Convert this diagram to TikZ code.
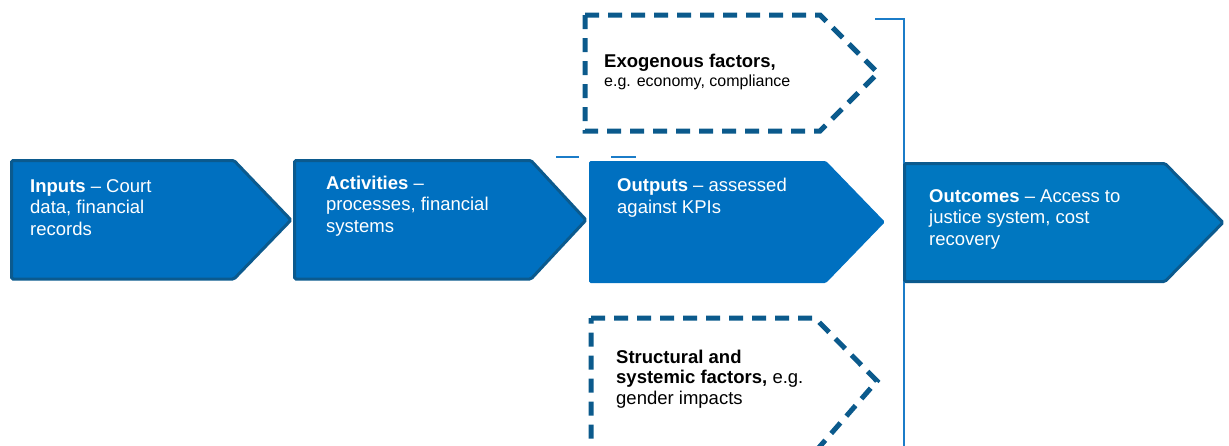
\documentclass[tikz,border=0pt]{standalone}
\usepackage{fontspec}
\setmainfont{Liberation Sans}
\definecolor{stepfill}{HTML}{0070C0}
\definecolor{stepfilllight}{HTML}{0077C0}
\definecolor{stepedge}{HTML}{0B5A8E}
\definecolor{factoredge}{HTML}{0B5A8C}
\definecolor{linkblue}{HTML}{1B7CC8}
\begin{document}
\begin{tikzpicture}[x=1pt,y=-1pt,
  chevron/.style={fill=stepfill, draw=stepedge, line width=3pt, rounded corners=1.5pt},
  chevronplain/.style={fill=stepfill, rounded corners=1.5pt},
  factorbox/.style={draw=factoredge, line width=5pt, dash pattern=on 14pt off 9pt},
  steptext/.style={anchor=base west, align=left, inner sep=0pt, text=white,
    font=\fontsize{18.5}{21.5}\selectfont},
  factortext/.style={anchor=base west, align=left, inner sep=0pt, text=black,
    font=\fontsize{18.5}{20.5}\selectfont},
  notetext/.style={anchor=base west, inner sep=0pt, text=black,
    font=\fontsize{16}{19}\selectfont},
  link/.style={draw=linkblue, line width=1.5pt}]
\useasboundingbox (0,0) rectangle (1229,445);
\clip (0,0) rectangle (1229,445);

% bracket line separating outputs from outcomes
\coordinate (bracketstart) at (875,19);
\coordinate (bracketcorner) at (904,19);
\coordinate (bracketend) at (904,447);
\draw[link] (bracketstart) -- (bracketcorner) -- (bracketend);

% short marks above the outputs step
\draw[link] (556,157) -- (579,157);
\draw[link] (611,157) -- (636,157);

% chevrons of the results chain
\path[chevron] (11.5,160.5) -- (234,160.5) -- (291,220) -- (234,279) -- (11.5,279) -- cycle;
\path[chevron] (294.5,160.5) -- (531,160.5) -- (586,220) -- (531,279) -- (294.5,279) -- cycle;
\path[chevronplain] (589,161) -- (826,161) -- (885,222) -- (826,283) -- (589,283) -- cycle;
\path[chevron, fill=stepfilllight] (904.5,163.5) -- (1165,163.5) -- (1223,222.5) -- (1165,281.5) -- (904.5,281.5) -- cycle;

% multi-line labels are anchored at the baseline of their last line
\node[steptext] (inputs) at (30,235) {\textbf{Inputs} – Court\\data, financial\\records};
\node[steptext] (activities) at (326,232) {\textbf{Activities} –\\processes, financial\\systems};
\node[steptext] (outputs) at (617,213) {\textbf{Outputs} – assessed\\against KPIs};
\node[steptext] (outcomes) at (929,245) {\textbf{Outcomes} – Access to\\justice system, cost\\recovery};

% dashed factor boxes
\path[factorbox] (585,15) -- (820,15) -- (878,73) -- (820,131) -- (585,131) -- cycle;
\node[factortext] (exotitle) at (604,67) {\textbf{Exogenous factors,}};
\node[notetext] (exonote) at (604,86) {e.g. economy, compliance};

\path[factorbox] (591,318) -- (815,318) -- (877,381) -- (815,452) -- (591,452) -- cycle;
\node[factortext] (structural) at (616,404) {\textbf{Structural and}\\\textbf{systemic factors,} e.g.\\gender impacts};
\end{tikzpicture}
\end{document}
